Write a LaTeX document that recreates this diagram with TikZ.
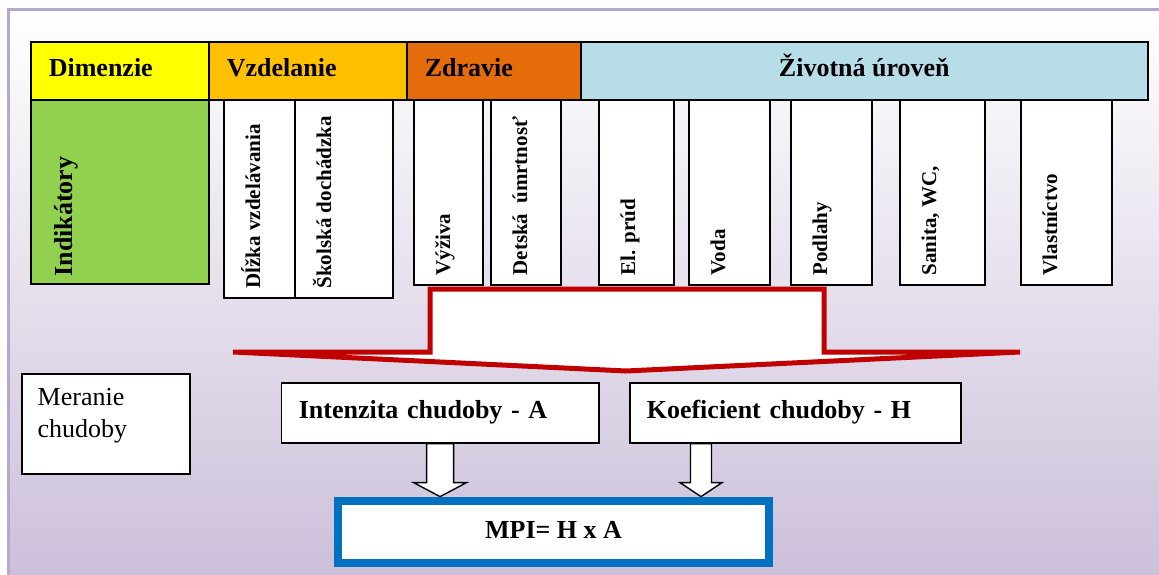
\documentclass[tikz,border=0pt]{standalone}
\usepackage{fontspec}
\setmainfont{Liberation Serif}
\definecolor{dimc}{HTML}{FFFF00}
\definecolor{vzdc}{HTML}{FFC000}
\definecolor{zdrc}{HTML}{E46C0A}
\definecolor{zivc}{HTML}{B7DDE8}
\definecolor{indc}{HTML}{92D050}
\definecolor{redc}{HTML}{C00000}
\definecolor{mpic}{HTML}{0070C0}
\definecolor{framec}{HTML}{B6A7CF}
\definecolor{midc}{HTML}{E7E1ED}
\definecolor{bgc}{HTML}{CCC0DA}
\begin{document}
\begin{tikzpicture}[x=1pt, y=-1pt, line join=miter,
	cell/.style={draw, line width=1.6pt, inner sep=0pt},
	headcell/.style={cell, minimum height=58pt, anchor=north west, text height=18pt, text depth=6pt, font=\fontsize{26}{30}\selectfont\bfseries},
	indbox/.style={cell, fill=white, anchor=north west},
	indtext/.style={rotate=90, anchor=base west, inner sep=0pt, font=\fontsize{21}{25}\selectfont\bfseries},
	resbox/.style={cell, fill=white, minimum height=60pt, anchor=north west, inner xsep=17.5pt, align=left, text height=18pt, text depth=6pt, font=\fontsize{26}{30}\selectfont\bfseries},
	blockarrow/.style={draw, line width=1.4pt, fill=white}]
	\useasboundingbox (0,0) rectangle (1159,575);
	% background frame
	\shade[top color=white, middle color=midc, bottom color=bgc] (8,10) rectangle (1159,575);
	\draw[framec, line width=3pt] (8,575) -- (8,10) -- (1159,10);
	% dimensions
	\foreach \n/\a/\b/\c/\t in {dim/30/208/dimc/Dimenzie, vzd/208/406/vzdc/Vzdelanie, zdr/406/580/zdrc/Zdravie}{
		\pgfmathsetmacro\tw{\b-\a-36}
		\node[headcell, fill=\c, inner xsep=18pt, text width=\tw pt, align=left] (\n) at (\a,41) {\t};}
	\node[headcell, fill=zivc, minimum width=567pt] (ziv) at (580,41) {Životná úroveň};
	% indicators
	\node[cell, fill=indc, minimum width=178pt, minimum height=184pt, anchor=north west] (ind) at (30,99) {};
	\node[indtext, font=\fontsize{26}{30}\selectfont\bfseries] (ind-t) at ([shift={(42,-8)}]ind.south west) {Indikátory};
	\foreach \n/\a/\b/\d/\t in {dlz/223/294/297/{Dĺžka vzdelávania}, sko/294/392/297/{Školská dochádzka},
		vyz/413/482/284/Výživa, det/490/560/284/{Detská\hspace{10pt}úmrtnosť}, ele/598/673/284/{El. prúd},
		vod/688/769/284/Voda, pod/790/871/284/Podlahy, san/899/984/284/{Sanita, WC,}, vla/1020/1111/284/Vlastníctvo}{
		\pgfmathsetmacro\w{\b-\a}
		\pgfmathsetmacro\h{\d-99}
		\node[indbox, minimum width=\w pt, minimum height=\h pt] (\n) at (\a,99) {};
		\node[indtext] (\n-t) at ([shift={(37,-10)}]\n.south west) {\t};}
	% big arrow
	\draw[redc, line width=5pt, fill=white] (233,352) -- (430,352) -- (430,289) -- (824,289) -- (824,352) -- (1020,352) -- (626,371) -- cycle;
	% measurement
	\node[cell, fill=white, minimum width=168pt, minimum height=100pt, anchor=north west] (mer) at (21,373) {};
	\node[anchor=base west, text width=150pt, align=left, inner sep=0pt, font=\fontsize{26}{32}\selectfont] (mer-t) at ([shift={(16.5,32)}]mer.north west) {Meranie\\chudoby};
	\node[resbox, text width=282.5pt] (int) at (280.5,382) {Intenzita chudoby - A};
	\node[resbox, inner xsep=17pt, text width=297pt] (koe) at (629,382) {Koeficient chudoby - H};
	\coordinate (kc) at ([xshift=72]koe.south west);
	\node[draw=mpic, line width=7.5pt, fill=white, minimum width=431pt, minimum height=62pt, text height=18pt, text depth=6pt, font=\fontsize{26}{30}\selectfont\bfseries] (mpi) at (553.5,532) {MPI= H x A};
	\foreach \p/\s/\h in {int.south/13.5/26.5, kc/10.5/21}
		\draw[blockarrow] ([xshift=-\s]\p) -- ++(0,39) -- ++(\s-\h,0) -- ++(\h,14) -- ++(\h,-14) -- ++(\s-\h,0) -- ++(0,-39) -- cycle;
\end{tikzpicture}
\end{document}
